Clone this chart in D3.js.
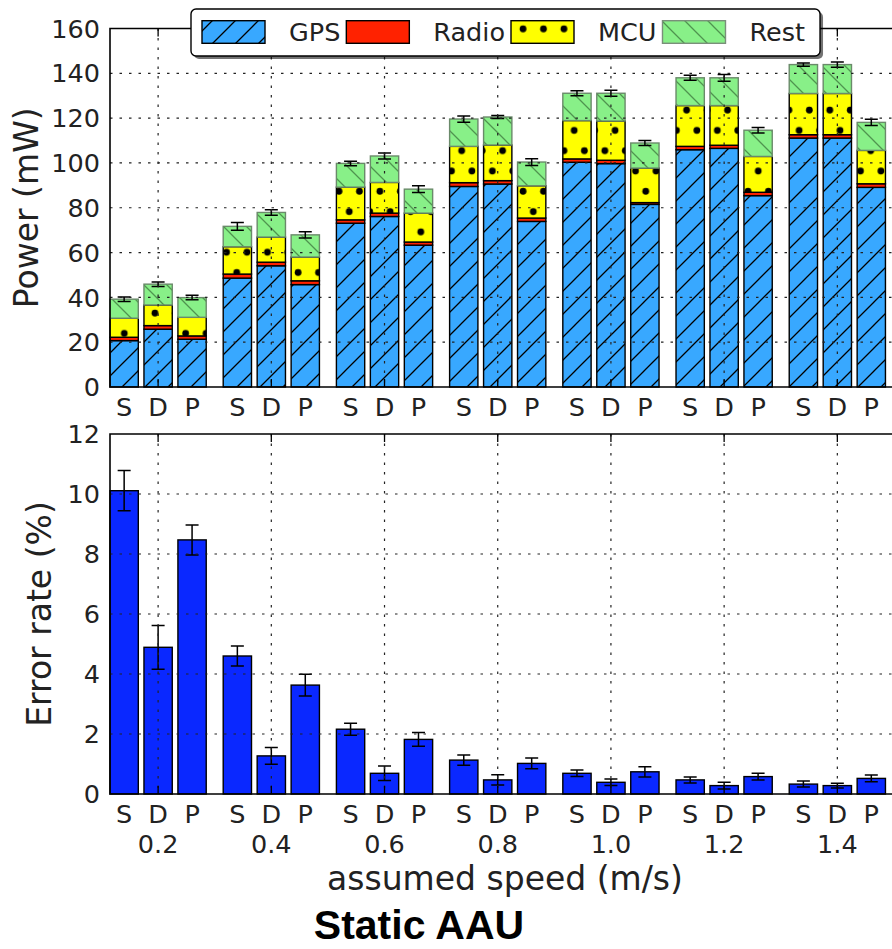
<!DOCTYPE html>
<html><head><meta charset="utf-8">
<script src="https://cdn.jsdelivr.net/npm/d3@7"></script>
<style>body{margin:0;background:#fff} svg{display:block}</style>
</head><body>
<script>
// ---------------- data ----------------
const speeds = [0.2, 0.4, 0.6, 0.8, 1.0, 1.2, 1.4];
const speedLabels = ["0.2", "0.4", "0.6", "0.8", "1.0", "1.2", "1.4"];
const methods = ["S", "D", "P"];
const seriesNames = ["GPS", "Radio", "MCU", "Rest"];
// power components (mW); one row per speed, columns S, D, P
const gpsPower   = [[20.7,25.8,21.3],[48.6,54.1,45.7],[73.1,76.1,63.3],[89.5,90.6,73.9],[100.3,99.7,81.5],[105.9,106.5,85.4],[111.1,111.1,89.1]];
const radioPower = [[1.5,1.6,1.5],[1.8,1.6,1.7],[1.5,1.5,1.4],[1.7,1.5,1.5],[1.5,1.5,0.8],[1.5,1.4,1.5],[1.5,1.5,1.6]];
const mcuPower   = [[8.5,9.2,8.3],[12.2,11.2,10.6],[14.6,13.7,12.9],[16.2,15.9,14.4],[17.1,17.5,15.4],[18.2,17.7,16.0],[18.4,18.4,14.9]];
const restPower  = [[8.5,9.3,8.8],[9.1,11.0,9.9],[10.6,11.8,10.7],[12.2,12.5,10.6],[12.2,12.4,11.2],[12.4,12.4,11.7],[12.9,12.9,12.5]];
const powerErr   = [[1.0,1.0,1.0],[1.7,1.2,1.4],[1.0,1.3,1.5],[1.4,0.7,1.5],[1.1,1.3,1.1],[1.1,1.5,1.2],[0.7,1.2,1.4]];
// error rate (%)
const errorRate    = [[10.11,4.89,8.47],[4.60,1.27,3.63],[2.16,0.69,1.82],[1.13,0.47,1.02],[0.69,0.39,0.74],[0.47,0.28,0.58],[0.33,0.28,0.52]];
const errorRateErr = [[0.67,0.73,0.50],[0.33,0.28,0.36],[0.20,0.24,0.23],[0.17,0.17,0.18],[0.11,0.11,0.17],[0.10,0.11,0.11],[0.10,0.08,0.11]];
const powerTicks = [0, 20, 40, 60, 80, 100, 120, 140, 160];
const errorTicks = [0, 2, 4, 6, 8, 10, 12];
const xTitle = "assumed speed (m/s)";
const yTitleTop = "Power (mW)";
const yTitleBottom = "Error rate (%)";
const figTitle = "Static AAU";

// ---------------- layout ----------------
const W = 892, H = 949;
const methodOffset = [-0.06, 0, 0.06];
const barW = 0.05;
const FONT = "DejaVu Sans, Verdana, sans-serif";
const colors = {GPS: "#38a8ff", Radio: "#ff2200", MCU: "#ffff00", Rest: "#88f088", err: "#0a28ff"};

const svg = d3.select("body").append("svg").attr("width", W).attr("height", H)
  .attr("font-family", FONT);

const x = d3.scaleLinear().domain([0.115, 1.51]).range([110, 899.6]);
const yTop = d3.scaleLinear().domain([0, 160]).range([387, 28.5]);
const yBot = d3.scaleLinear().domain([0, 12]).range([794, 434]);

// ---------------- patterns ----------------
const defs = svg.append("defs");
const hs = 23;
const pg = defs.append("pattern").attr("id", "hGPS").attr("patternUnits", "userSpaceOnUse")
  .attr("width", hs).attr("height", hs).attr("x", 0).attr("y", 3);
pg.append("rect").attr("width", hs).attr("height", hs).attr("fill", colors.GPS);
pg.append("path").attr("d", `M0,${hs}L${hs},0M${-2},2L2,${-2}M${hs-2},${hs+2}L${hs+2},${hs-2}`)
  .attr("stroke", "#000").attr("stroke-width", 1.3);
const pr = defs.append("pattern").attr("id", "hRest").attr("patternUnits", "userSpaceOnUse")
  .attr("width", hs).attr("height", hs).attr("x", 0).attr("y", 3);
pr.append("rect").attr("width", hs).attr("height", hs).attr("fill", colors.Rest);
pr.append("path").attr("d", `M0,0L${hs},${hs}M${-2},${hs-2}L2,${hs+2}M${hs-2},${-2}L${hs+2},2`)
  .attr("stroke", "#4f944f").attr("stroke-width", 1.3);
const dw = 20.45, dh = 40.6;
const pm = defs.append("pattern").attr("id", "hMCU").attr("patternUnits", "userSpaceOnUse")
  .attr("width", dw).attr("height", dh).attr("x", 339 - dw / 4).attr("y", 150.7 - dh / 4);
pm.append("rect").attr("width", dw).attr("height", dh).attr("fill", colors.MCU);
pm.append("circle").attr("cx", dw / 4).attr("cy", dh / 4).attr("r", 3.4).attr("fill", "#000");
pm.append("circle").attr("cx", 3 * dw / 4).attr("cy", 3 * dh / 4).attr("r", 3.4).attr("fill", "#000");

const fills = {GPS: "url(#hGPS)", Radio: colors.Radio, MCU: "url(#hMCU)", Rest: "url(#hRest)"};
const strokes = {GPS: "#000", Radio: "#000", MCU: "#000", Rest: "#6a8a6a"};

// ---------------- records ----------------
const records = [];
speeds.forEach((s, i) => methods.forEach((m, j) => {
  records.push({speed: s, method: m, pos: s + methodOffset[j],
    GPS: gpsPower[i][j], Radio: radioPower[i][j], MCU: mcuPower[i][j], Rest: restPower[i][j],
    pErr: powerErr[i][j], rate: errorRate[i][j], rErr: errorRateErr[i][j]});
}));
const stacked = d3.stack().keys(seriesNames)(records);

function plotFrame(y, ticks, top, bottom) {
  const g = svg.append("g");
  g.selectAll(".hg").data(ticks.slice(1, -1)).join("line")
    .attr("x1", x.range()[0]).attr("x2", x.range()[1])
    .attr("y1", d => y(d)).attr("y2", d => y(d))
    .attr("stroke", "#222").attr("stroke-width", 1.2).attr("stroke-dasharray", "2.5,7");
  g.selectAll(".vg").data(speeds).join("line")
    .attr("x1", d => x(d)).attr("x2", d => x(d))
    .attr("y1", top).attr("y2", bottom)
    .attr("stroke", "#222").attr("stroke-width", 1.2).attr("stroke-dasharray", "2.5,7");
  g.selectAll(".tt").data(speeds).join("line")
    .attr("x1", d => x(d)).attr("x2", d => x(d)).attr("y1", top).attr("y2", top + 8)
    .attr("stroke", "#000").attr("stroke-width", 1.3);
  g.selectAll(".tb").data(speeds).join("line")
    .attr("x1", d => x(d)).attr("x2", d => x(d)).attr("y1", bottom).attr("y2", bottom - 8)
    .attr("stroke", "#000").attr("stroke-width", 1.3);
  g.append("path").attr("d", `M${x.range()[1]},${top}H${x.range()[0]}V${bottom}H${x.range()[1]}`)
    .attr("fill", "none").attr("stroke", "#000").attr("stroke-width", 1.6);
  g.selectAll(".yl").data(ticks).join("text")
    .attr("x", 100).attr("y", d => y(d)).attr("dy", "0.36em")
    .attr("text-anchor", "end").attr("font-size", 25.5).attr("fill", "#222").text(d => d);
  g.selectAll(".ml").data(records).join("text")
    .attr("x", d => x(d.pos)).attr("y", bottom + 28.5)
    .attr("text-anchor", "middle").attr("font-size", 25.5).attr("fill", "#222").text(d => d.method);
  return g;
}

// ---------------- top panel ----------------
const gTop = svg.append("g");
stacked.forEach(layer => {
  const k = layer.key;
  gTop.selectAll(null).data(layer).join("rect")
    .attr("x", d => x(d.data.pos - barW / 2))
    .attr("width", d => x(d.data.pos + barW / 2) - x(d.data.pos - barW / 2))
    .attr("y", d => yTop(d[1]))
    .attr("height", d => yTop(d[0]) - yTop(d[1]))
    .attr("fill", fills[k]).attr("stroke", strokes[k]).attr("stroke-width", 1.4);
});
const total = d => d.GPS + d.Radio + d.MCU + d.Rest;
function errBars(g, data, y, val, err) {
  const eg = g.append("g").attr("stroke", "#000").attr("stroke-width", 1.5);
  eg.selectAll(null).data(data).join("path")
    .attr("d", d => {
      const cx = x(d.pos), y1 = y(val(d) + err(d)), y0 = y(val(d) - err(d));
      return `M${cx},${y0}V${y1}M${cx-6.5},${y1}H${cx+6.5}M${cx-6.5},${y0}H${cx+6.5}`;
    }).attr("fill", "none");
}
errBars(gTop, records, yTop, total, d => d.pErr);
plotFrame(yTop, powerTicks, yTop(160), yTop(0));

// ---------------- bottom panel ----------------
const gBot = svg.append("g");
gBot.selectAll(null).data(records).join("rect")
  .attr("x", d => x(d.pos - barW / 2))
  .attr("width", d => x(d.pos + barW / 2) - x(d.pos - barW / 2))
  .attr("y", d => yBot(d.rate))
  .attr("height", d => yBot(0) - yBot(d.rate))
  .attr("fill", colors.err).attr("stroke", "#000").attr("stroke-width", 1.4);
errBars(gBot, records, yBot, d => d.rate, d => d.rErr);
plotFrame(yBot, errorTicks, yBot(12), yBot(0));

svg.selectAll(".sl").data(speeds).join("text")
  .attr("x", d => x(d)).attr("y", 852.5).attr("text-anchor", "middle")
  .attr("font-size", 25.5).attr("fill", "#222").text((d, i) => speedLabels[i]);

svg.append("text").attr("x", 505).attr("y", 890).attr("text-anchor", "middle")
  .attr("font-size", 33).attr("fill", "#222").text(xTitle);
svg.append("text").attr("transform", `translate(38,${(yTop(0) + yTop(160)) / 2}) rotate(-90)`)
  .attr("text-anchor", "middle").attr("font-size", 33).attr("fill", "#222").text(yTitleTop);
svg.append("text").attr("transform", `translate(51,${(yBot(0) + yBot(12)) / 2}) rotate(-90)`)
  .attr("text-anchor", "middle").attr("font-size", 33).attr("fill", "#222").text(yTitleBottom);

svg.append("text").attr("x", 419).attr("y", 939).attr("text-anchor", "middle")
  .attr("font-family", "Liberation Sans, Arial, sans-serif").attr("font-weight", "bold")
  .attr("font-size", 41).attr("fill", "#000").text(figTitle);

// ---------------- legend ----------------
const lg = svg.append("g");
const shadow = lg.append("rect");
const box = lg.append("rect");
let cx = 202;
const hw = 63, hh = 22.6, hy = 20.7;
seriesNames.forEach(k => {
  lg.append("rect").attr("x", cx).attr("y", hy).attr("width", hw).attr("height", hh)
    .attr("fill", fills[k]).attr("stroke", k === "Rest" ? "#7a8f7a" : "#000").attr("stroke-width", 1.4);
  const t = lg.append("text").attr("x", cx + hw + 24).attr("y", 40.7)
    .attr("font-size", 25.5).attr("fill", "#222").text(k);
  const len = t.node().getComputedTextLength();
  cx = cx + hw + 24 + len + 6;
});
const bx = 191, by = 9, bw = cx - 6 + 15 - bx, bh = 47;
shadow.attr("x", bx + 3).attr("y", by + 3).attr("width", bw).attr("height", bh).attr("rx", 5)
  .attr("fill", "#000").attr("opacity", 0.55);
box.attr("x", bx).attr("y", by).attr("width", bw).attr("height", bh).attr("rx", 5)
  .attr("fill", "#fff").attr("stroke", "#000").attr("stroke-width", 1.4);
</script>
</body></html>
